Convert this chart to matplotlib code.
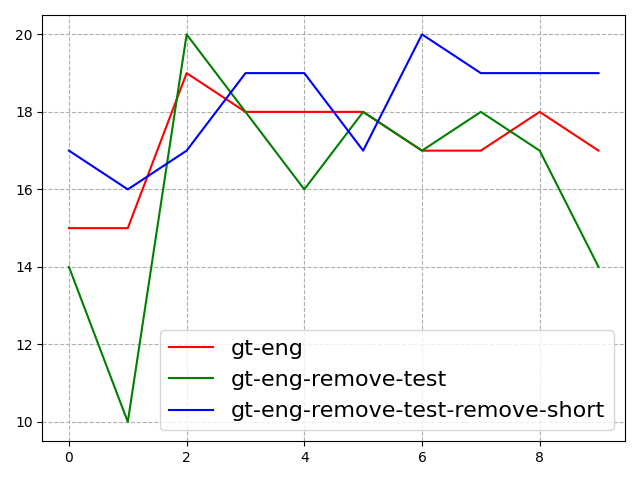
import matplotlib
matplotlib.use('Agg')
import matplotlib.pyplot as plt

x = list(range(10))
gt_eng = [15, 15, 19, 18, 18, 18, 17, 17, 18, 17]
gt_eng_remove_test = [14, 10, 20, 18, 16, 18, 17, 18, 17, 14]
gt_eng_remove_short = [17, 16, 17, 19, 19, 17, 20, 19, 19, 19]

fig, ax = plt.subplots(figsize=(6.4, 4.8), dpi=100)
ax.plot(x, gt_eng, color='red', label='gt-eng')
ax.plot(x, gt_eng_remove_test, color='green', label='gt-eng-remove-test')
ax.plot(x, gt_eng_remove_short, color='blue', label='gt-eng-remove-test-remove-short')
ax.grid(True, linestyle='--', color='#b0b0b0')
ax.legend(fontsize=16, loc='lower right')
fig.tight_layout()
fig.savefig('out.png')
